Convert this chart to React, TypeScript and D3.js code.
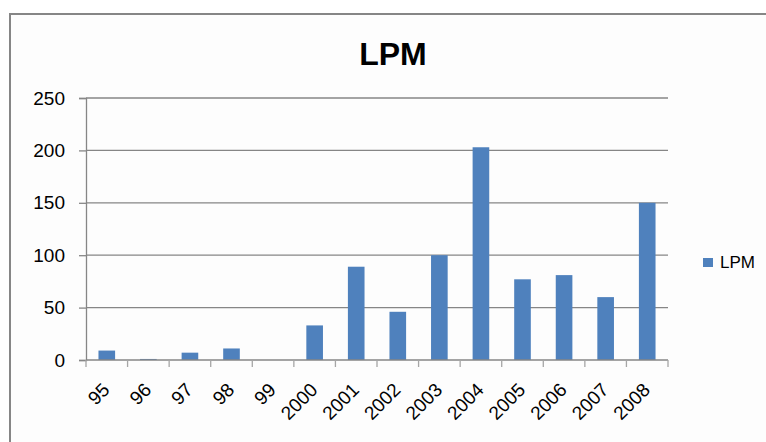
import { useEffect, useRef } from "react";
import * as d3 from "d3";

const categories = ["95", "96", "97", "98", "99", "2000", "2001", "2002", "2003", "2004", "2005", "2006", "2007", "2008"];
const lpmValues = [9, 1, 7, 11, 0, 33, 89, 46, 100, 203, 77, 81, 60, 150];
const yTicks = [0, 50, 100, 150, 200, 250];
const seriesName = "LPM";
const chartTitle = "LPM";

export default function App() {
  const svgRef = useRef<SVGSVGElement>(null);

  useEffect(() => {
    if (!svgRef.current) return;
    const width = 766;
    const height = 442;
    const margin = { top: 98, right: 98, bottom: 82, left: 86 };
    const font = "'Liberation Sans', Arial, sans-serif";

    d3.select(svgRef.current).selectAll("*").remove();
    const svg = d3
      .select(svgRef.current)
      .attr("width", width)
      .attr("height", height)
      .attr("viewBox", [0, 0, width, height]);

    svg.append("rect").attr("width", width).attr("height", height).attr("fill", "#fff");

    // chart frame (runs off the right and bottom edges)
    svg
      .append("rect")
      .attr("x", 10)
      .attr("y", 14)
      .attr("width", width + 20)
      .attr("height", height + 20)
      .attr("fill", "#fdfdfd")
      .attr("stroke", "#868686")
      .attr("stroke-width", 2);

    const x = d3
      .scaleBand()
      .domain(categories)
      .range([margin.left, width - margin.right]);

    const y = d3
      .scaleLinear()
      .domain([0, 250])
      .range([height - margin.bottom, margin.top]);

    // title
    svg
      .append("text")
      .attr("x", 393)
      .attr("y", 65)
      .attr("text-anchor", "middle")
      .style("font-family", font)
      .style("font-size", "32px")
      .style("font-weight", "bold")
      .style("fill", "#000")
      .text(chartTitle);

    // gridlines
    svg
      .append("g")
      .selectAll("line")
      .data(yTicks.filter((d) => d > 0))
      .enter()
      .append("line")
      .attr("x1", margin.left)
      .attr("x2", width - margin.right)
      .attr("y1", (d) => y(d))
      .attr("y2", (d) => y(d))
      .style("stroke", "#868686")
      .style("stroke-width", "1.3px");

    // y axis
    const yAxis = d3
      .axisLeft(y)
      .tickValues(yTicks)
      .tickSize(7)
      .tickPadding(14)
      .tickFormat((d) => String(d));

    const gy = svg
      .append("g")
      .attr("transform", `translate(${margin.left},0)`)
      .call(yAxis);
    gy.select(".domain").attr("stroke", "#868686").attr("stroke-width", 1.3);
    gy.selectAll(".tick line").attr("stroke", "#868686").attr("stroke-width", 1.3);
    gy.selectAll("text")
      .style("font-family", font)
      .style("font-size", "19px")
      .style("fill", "#000");

    // bars
    const barW = x.bandwidth() / 2.5;
    svg
      .append("g")
      .selectAll("rect")
      .data(categories)
      .enter()
      .append("rect")
      .attr("x", (d) => (x(d) ?? 0) + (x.bandwidth() - barW) / 2)
      .attr("y", (d, i) => y(lpmValues[i]))
      .attr("width", barW)
      .attr("height", (d, i) => y(0) - y(lpmValues[i]))
      .style("fill", "#4f81bd");

    // x axis
    const x0 = y(0);
    svg
      .append("line")
      .attr("x1", margin.left)
      .attr("x2", width - margin.right)
      .attr("y1", x0)
      .attr("y2", x0)
      .style("stroke", "#868686")
      .style("stroke-width", "1.3px");

    const boundaries = categories.map((c) => x(c) ?? 0).concat([width - margin.right]);
    svg
      .append("g")
      .selectAll("line")
      .data(boundaries)
      .enter()
      .append("line")
      .attr("x1", (d) => d)
      .attr("x2", (d) => d)
      .attr("y1", x0)
      .attr("y2", x0 + 7)
      .style("stroke", "#a6a6a6")
      .style("stroke-width", "1.3px");

    svg
      .append("g")
      .selectAll("text")
      .data(categories)
      .enter()
      .append("text")
      .attr(
        "transform",
        (d) => `translate(${(x(d) ?? 0) + x.bandwidth() / 2 + 4},${x0 + 31}) rotate(-45)`
      )
      .attr("text-anchor", "end")
      .style("font-family", font)
      .style("font-size", "19px")
      .style("fill", "#000")
      .text((d) => d);

    // legend
    const legend = svg.append("g").attr("transform", "translate(703,258)");
    legend.append("rect").attr("width", 10).attr("height", 9).style("fill", "#4f81bd");
    legend
      .append("text")
      .attr("x", 17)
      .attr("y", 9.5)
      .style("font-family", font)
      .style("font-size", "17px")
      .style("fill", "#000")
      .text(seriesName);
  }, []);

  return (
    <div style={{ position: "absolute", left: 0, top: 0 }}>
      <svg ref={svgRef} style={{ display: "block" }} />
    </div>
  );
}
